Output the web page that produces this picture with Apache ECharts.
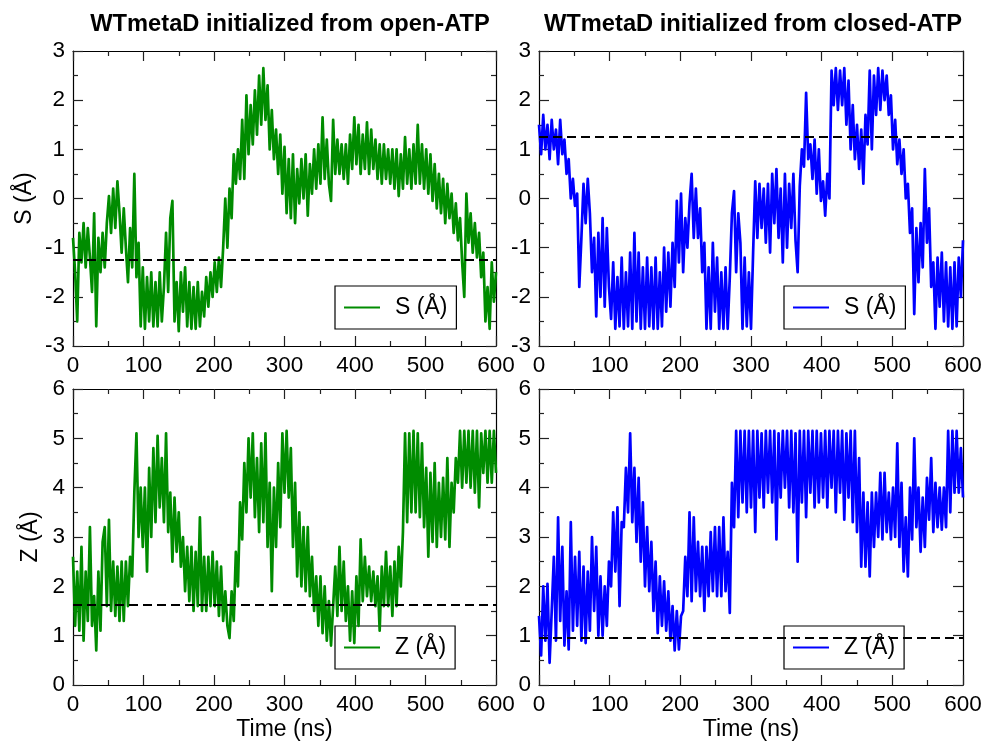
<!DOCTYPE html>
<html>
<head>
<meta charset="utf-8">
<script src="https://cdn.jsdelivr.net/npm/echarts@6/dist/echarts.min.js"></script>
<style>
  html, body { margin: 0; padding: 0; background: #fff; }
</style>
</head>
<body>
<div id="main" style="width:985px;height:745px"></div>
<script>
// sampling step of the traces (ns)
var timeStep = 3;

// S (A), run started from open-ATP
var sOpen = [
  -0.8, -1.5, -2.5, -0.7, -1.3, -0.5, -1.4, -0.6, -1.2, -1.9,
  -0.3, -2.6, -0.8, -1.5, -0.7, -1.4, -0.5, 0.05, -0.7, 0.2,
  -0.6, 0.35, -0.3, -1.1, -0.2, -1.0, -1.7, -0.6, -1.4, 0.5,
  -1.6, -0.9, -2.6, -1.4, -2.65, -1.6, -2.5, -1.5, -2.6, -1.7,
  -2.6, -1.5, -2.5, -1.8, -0.7, -1.9, -0.4, -0.05, -2.5, -1.7,
  -2.7, -1.5, -2.3, -1.4, -2.6, -1.7, -2.65, -1.8, -2.65, -1.7,
  -2.6, -1.9, -2.4, -1.6, -2.2, -1.5, -2.0, -1.3, -1.9, -1.2,
  -1.8, -1.0, 0.0, -1.0, 0.2, -0.4, 0.9, 0.3, 1.0, 0.4,
  1.6, 0.4, 2.1, 0.9, 1.9, 1.1, 2.2, 1.3, 2.5, 1.5,
  2.65, 1.6, 2.3, 1.0, 1.8, 0.8, 1.4, 0.5, 1.3, 0.1,
  1.05, -0.3, 0.8, -0.4, 0.9, -0.5, 0.6, -0.1, 0.8, 0.0,
  0.9, -0.35, 0.7, 0.1, 1.0, 0.2, 1.1, 0.3, 1.65, 0.4,
  1.2, 0.3, -0.05, 1.6, 0.5, 1.2, 0.5, 1.1, 0.4, 1.1,
  0.3, 1.3, 0.6, 1.65, 0.7, 1.5, 0.5, 1.3, 0.6, 1.55,
  0.5, 1.4, 0.6, 1.2, 0.4, 1.1, 0.3, 1.1, 0.4, 1.0,
  0.3, 1.0, 0.2, 1.0, 0.05, 0.9, 0.2, 1.25, 0.3, 1.0,
  0.2, 1.1, 0.3, 1.5, 0.3, 1.1, 0.2, 1.0, 0.1, 0.9,
  -0.05, 0.7, -0.2, 0.5, -0.3, 0.4, -0.5, 0.3, -0.4, 0.1,
  -0.7, -0.1, -0.85, -0.4, -1.3, -2.0, 0.1, -0.9, -0.3, -1.1,
  -0.5, -1.2, -0.7, -1.6, -1.1, -2.5, -1.8, -2.65, -1.3, -2.1, -1.5
];

// S (A), run started from closed-ATP
var sClosed = [
  1.5, 0.9, 1.7, 1.0, 1.5, 0.8, 1.6, 1.0, 1.4, 0.7,
  1.6, 0.9, 1.2, 0.5, 0.8, 0.0, 0.4, -0.15, 0.1, -1.8,
  -0.8, 0.3, -0.5, 0.4, -0.3, -1.5, -0.8, -2.4, -0.7, -2.0,
  -0.4, -2.2, -0.6, -1.8, -2.45, -1.3, -2.65, -1.6, -2.6, -1.2,
  -2.65, -1.5, -2.6, -1.1, -2.65, -0.7, -2.5, -1.1, -2.65, -1.4,
  -2.65, -1.2, -2.6, -1.4, -2.65, -1.2, -2.65, -1.5, -2.6, -1.0,
  -2.3, -1.1, -2.2, -0.9, -1.8, -0.05, -1.3, 0.1, -1.5, -0.4,
  -1.0, -0.1, 0.5, -0.8, 0.2, -0.8, -0.2, -1.5, -0.9, -2.65,
  -1.4, -2.65, -0.9, -2.3, -1.2, -2.65, -1.5, -2.65, -1.4, -2.65,
  -1.6, -0.3, 0.15, -1.5, -0.3, -0.9, -2.65, -1.2, -2.6, -1.5,
  -2.65, -1.1, 0.35, -0.8, 0.3, -0.6, 0.2, -0.9, 0.3, -1.1,
  0.5, -0.5, 0.6, -0.8, 0.2, -1.3, 0.5, -1.0, 0.3, -0.6,
  0.5, -0.85, -1.5, 0.25, 1.0, 0.65, 2.15, 0.8, 1.1, 0.4,
  1.2, 0.1, 1.0, -0.05, 0.35, -0.35, 0.5, 0.0, 2.6, 1.9,
  2.65, 1.8, 2.6, 1.9, 2.65, 1.5, 2.4, 1.0, 1.9, 0.8,
  1.5, 0.6, 1.4, 0.3, 1.7, 1.1, 2.6, 1.0, 2.5, 1.7,
  2.65, 1.8, 2.6, 2.0, 2.5, 1.7, 2.1, 1.0, 1.6, 0.7,
  1.2, 0.5, 1.0, 0.0, 0.3, -0.7, -0.2, -2.35, -0.6, -1.7,
  -0.5, -1.4, 0.6, -0.9, -0.2, -1.8, -1.3, -2.65, -1.2, -2.2,
  -1.1, -2.5, -1.3, -2.6, -1.4, -2.65, -1.3, -2.6, -1.2, -2.0, -0.85
];

// Z (A), run started from open-ATP
var zOpen = [
  2.6, 1.2, 2.3, 1.1, 2.8, 0.9, 2.3, 1.3, 3.2, 1.2,
  1.8, 0.7, 2.3, 1.1, 2.9, 3.2, 1.6, 3.35, 1.5, 2.5,
  1.4, 2.4, 1.3, 2.5, 1.3, 2.5, 1.6, 2.6, 2.2, 3.9,
  5.1, 3.0, 4.0, 2.8, 4.0, 2.3, 4.4, 3.0, 4.8, 3.3,
  5.05, 3.6, 4.6, 3.3, 5.1, 3.1, 3.9, 2.5, 3.8, 2.7,
  3.5, 2.4, 3.0, 1.9, 2.8, 1.7, 2.8, 1.5, 2.7, 1.6,
  3.4, 1.5, 2.6, 1.5, 2.6, 1.6, 2.7, 1.6, 2.5, 1.4,
  2.4, 1.3, 1.9, 1.2, 0.95, 1.9, 1.3, 2.7, 2.0, 3.7,
  2.95, 4.5, 3.5, 5.0, 3.8, 5.1, 3.4, 4.6, 3.1, 4.9,
  3.3, 5.1, 2.8, 4.1, 1.9, 4.0, 2.8, 4.5, 3.2, 5.1,
  3.9, 5.15, 3.8, 4.8, 2.8, 4.1, 2.2, 3.5, 2.0, 3.2,
  1.9, 3.2, 1.8, 2.6, 1.5, 2.2, 1.2, 2.2, 1.05, 2.0,
  0.9, 1.7, 0.8, 1.6, 2.4, 1.4, 2.8, 1.5, 2.5, 1.3,
  2.0, 0.9, 1.9, 0.85, 2.2, 1.2, 2.95, 1.7, 2.6, 1.8,
  2.4, 1.7, 2.3, 1.6, 2.2, 1.1, 2.4, 1.6, 2.7, 1.6,
  2.4, 1.4, 2.5, 1.6, 2.8, 2.0, 3.1, 5.1, 3.3, 5.1,
  3.5, 5.15, 3.5, 5.1, 3.4, 4.9, 3.2, 4.4, 2.6, 4.3,
  2.9, 4.5, 2.8, 4.1, 3.0, 4.2, 2.95, 4.6, 2.8, 4.1,
  3.5, 4.6, 4.1, 5.15, 4.0, 5.15, 4.1, 5.15, 4.0, 5.15,
  3.9, 5.15, 3.6, 5.1, 4.3, 5.15, 4.1, 5.15, 4.1, 5.15, 4.3
];

// Z (A), run started from closed-ATP
var zClosed = [
  1.4, 0.6, 2.0, 0.9, 2.05, 0.45, 1.5, 2.6, 0.9, 3.4,
  1.3, 2.8, 0.8, 1.9, 0.72, 3.3, 1.1, 2.6, 1.2, 2.7,
  0.9, 2.4, 0.85, 2.3, 1.1, 3.0, 1.5, 2.8, 1.0, 2.2,
  1.0, 2.0, 1.2, 2.5, 2.0, 3.5, 2.3, 3.6, 1.6, 3.3,
  3.2, 4.4, 3.5, 5.1, 3.3, 4.4, 2.9, 4.2, 2.5, 3.7,
  2.0, 3.2, 1.9, 2.9, 1.5, 2.5, 1.05, 2.2, 1.2, 2.1,
  1.1, 1.9, 0.9, 1.6, 0.7, 1.5, 0.72, 1.4, 1.5, 2.6,
  1.8, 3.5, 1.7, 3.4, 1.9, 2.9, 1.8, 2.8, 1.5, 2.8,
  1.8, 3.1, 1.9, 3.2, 1.8, 3.2, 1.8, 3.4, 1.9, 2.7,
  1.46, 4.1, 3.2, 5.15, 3.4, 5.15, 3.7, 5.15, 3.5, 5.15,
  3.6, 5.15, 3.1, 5.15, 3.8, 5.1, 3.6, 5.15, 3.9, 5.15,
  3.7, 5.15, 2.95, 5.1, 3.8, 5.15, 4.0, 5.15, 3.6, 5.15,
  3.5, 5.1, 2.5, 5.15, 3.7, 5.15, 3.4, 5.15, 3.9, 5.15,
  3.6, 5.15, 3.7, 5.1, 3.8, 5.15, 3.6, 5.15, 4.0, 5.15,
  3.5, 5.15, 3.9, 5.15, 3.35, 5.1, 3.8, 5.15, 3.3, 5.15,
  3.1, 4.6, 2.4, 3.9, 2.4, 3.7, 2.2, 3.9, 2.8, 3.9,
  3.0, 4.3, 2.95, 4.3, 3.1, 3.9, 2.95, 4.0, 3.0, 4.9,
  2.8, 4.1, 2.3, 3.4, 2.2, 4.0, 2.95, 5.0, 3.2, 4.0,
  2.7, 3.8, 2.8, 4.2, 3.35, 4.6, 3.1, 4.1, 3.2, 4.0,
  3.15, 4.0, 3.2, 5.15, 3.5, 5.15, 3.9, 5.15, 3.9, 4.8, 3.8
];

// dashed reference levels: S open, S closed, Z open, Z closed
var refLines = [-1.25, 1.25, 1.62, 0.95];

var titles = ["WTmetaD initialized from open-ATP", "WTmetaD initialized from closed-ATP"];
var seriesNames = ["S (Å)", "S (Å)", "Z (Å)", "Z (Å)"];
var traces = [sOpen, sClosed, zOpen, zClosed];
var colors = ["#008c00", "#0000ff", "#008c00", "#0000ff"];

var FONT = "Liberation Sans";
var grids = [
  { left: 73, top: 51, width: 423, height: 295 },
  { left: 539, top: 51, width: 424, height: 295 },
  { left: 73, top: 389, width: 423, height: 296 },
  { left: 539, top: 389, width: 424, height: 296 }
];
var yRange = [[-3, 3], [-3, 3], [0, 6], [0, 6]];

var lineCol = "#000";
function tickCommon() {
  return {
    axisLine: { show: true, onZero: false, lineStyle: { color: lineCol, width: 1.2 } },
    axisTick: { show: true, inside: true, length: 10, lineStyle: { color: "#222", width: 1.2 } },
    minorTick: { show: true, splitNumber: 2, length: 5, lineStyle: { color: "#222", width: 1.2 } },
    splitLine: { show: false }
  };
}

var xAxes = [], yAxes = [], series = [], legends = [];
for (let i = 0; i < 4; i++) {
  let bottomX = Object.assign(tickCommon(), {
    type: "value", gridIndex: i, position: "bottom", min: 0, max: 600, interval: 100,
    axisLabel: { show: true, margin: 8, color: "#000", fontSize: 22.5, fontFamily: FONT }
  });
  if (i >= 2) {
    bottomX.name = "Time (ns)";
    bottomX.nameLocation = "middle";
    bottomX.nameGap = 33;
    bottomX.nameTextStyle = { color: "#000", fontSize: 23, fontFamily: FONT };
  }
  xAxes.push(bottomX);
  xAxes.push(Object.assign(tickCommon(), {
    type: "value", gridIndex: i, position: "top", min: 0, max: 600, interval: 100,
    axisLabel: { show: false }
  }));

  let leftY = Object.assign(tickCommon(), {
    type: "value", gridIndex: i, position: "left", min: yRange[i][0], max: yRange[i][1], interval: 1,
    axisLabel: { show: true, margin: 8, color: "#000", fontSize: 22.5, fontFamily: FONT }
  });
  if (i % 2 === 0) {
    leftY.name = seriesNames[i];
    leftY.nameLocation = "middle";
    leftY.nameRotate = 90;
    leftY.nameGap = i === 0 ? 37 : 31;
    leftY.nameTextStyle = { color: "#000", fontSize: 23, fontFamily: FONT };
  }
  yAxes.push(leftY);
  yAxes.push(Object.assign(tickCommon(), {
    type: "value", gridIndex: i, position: "right", min: yRange[i][0], max: yRange[i][1], interval: 1,
    axisLabel: { show: false }
  }));

  series.push({
    name: seriesNames[i],
    type: "line",
    xAxisIndex: i * 2,
    yAxisIndex: i * 2,
    symbol: "none",
    color: colors[i],
    lineStyle: { color: colors[i], width: 2.7, join: "round" },
    data: traces[i].map(function (v, k) { return [k * timeStep, v]; }),
    markLine: {
      silent: true,
      symbol: "none",
      label: { show: false },
      lineStyle: { color: "#000", type: [9, 5], width: 2 },
      data: [{ yAxis: refLines[i] }]
    }
  });

  let lx = i % 2 === 0 ? 335 : 784;
  let ly = i < 2 ? 286 : 626;
  legends.push({
    left: lx, top: ly, z: 1,
    orient: "vertical",
    backgroundColor: "#fff",
    borderColor: "#000",
    borderWidth: 1.2,
    borderRadius: 0,
    padding: [10, 9, 10, 9],
    itemWidth: 36,
    itemHeight: 14,
    selectedMode: false,
    textStyle: { color: "#000", fontSize: 23, fontFamily: FONT, padding: [0, 0, 0, 10] },
    data: [{ name: seriesNames[i], icon: "path://M0,6 L36,6 L36,8 L0,8 Z", itemStyle: { color: colors[i] } }]
  });
}

var option = {
  animation: false,
  backgroundColor: "#fff",
  title: [
    { text: titles[0], left: 285, top: 7, textAlign: "center",
      textStyle: { fontSize: 23.7, fontWeight: "bold", color: "#000", fontFamily: FONT } },
    { text: titles[1], left: 748, top: 7, textAlign: "center",
      textStyle: { fontSize: 23.7, fontWeight: "bold", color: "#000", fontFamily: FONT } }
  ],
  legend: legends,
  grid: grids,
  xAxis: xAxes,
  yAxis: yAxes,
  series: series
};

var myChart = echarts.init(document.getElementById("main"), null, { renderer: "canvas" });
myChart.setOption(option);
</script>
</body>
</html>
